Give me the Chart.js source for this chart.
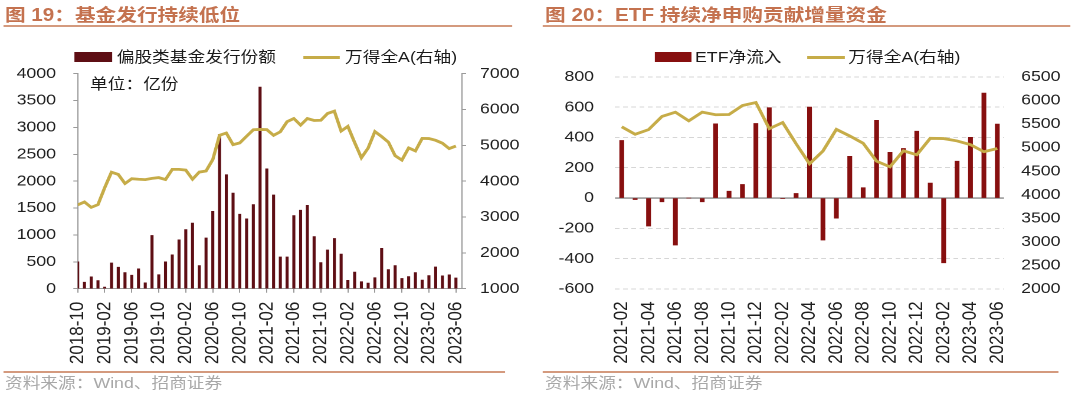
<!DOCTYPE html>
<html lang="zh-CN">
<head>
<meta charset="utf-8">
<title>基金发行与ETF净流入</title>
<script src="https://cdn.jsdelivr.net/npm/chart.js@4.4.0/dist/chart.umd.min.js"></script>
<style>
  html, body { margin: 0; padding: 0; background: #fff; }
  body { width: 1080px; height: 396px; overflow: hidden; position: relative; }
  /* the source picture is stretched sideways, so the whole page is too */
  #page { position: absolute; left: 0; top: 0; width: 915.25px; height: 396px;
          transform: scaleX(1.18); transform-origin: 0 0;
          font-family: 'Liberation Sans', 'Noto Sans CJK SC', sans-serif; }
  .title { position: absolute; top: 4px; font-size: 17.5px; font-weight: bold; color: #c4724f;
           line-height: 22px; white-space: nowrap; }
  .rule { position: absolute; height: 2px; background: #d49a7e; }
  .source { position: absolute; top: 374px; font-size: 15px; color: #a8a8a8; line-height: 18px; white-space: nowrap; }
  .legend { position: absolute; font-size: 15px; color: #1a1a1a; line-height: 18px; white-space: nowrap; }
  .box { position: absolute; }
  .chartBox { position: absolute; top: 50px; height: 320px; }
</style>
</head>
<body>
<div id="page">
  <div class="title" style="left:4.2px">图 19：基金发行持续低位</div>
  <div class="rule" style="left:3px; width:431px; top:25px"></div>
  <div class="title" style="left:461.9px">图 20：ETF 持续净申购贡献增量资金</div>
  <div class="rule" style="left:460px; width:447px; top:25px"></div>

  <div class="box" style="left:62.7px; top:52px; width:32px; height:9.5px; background:#5e0e14"></div>
  <div class="legend" style="left:98.9px; top:48px">偏股类基金发行份额</div>
  <div class="box" style="left:256.5px; top:55.5px; width:31.6px; height:3px; background:#c6ac48"></div>
  <div class="legend" style="left:292.4px; top:48px">万得全A(右轴)</div>
  <div class="legend" style="left:76.3px; top:75px">单位：亿份</div>

  <div class="box" style="left:555.1px; top:52px; width:31px; height:9.5px; background:#870f0f"></div>
  <div class="legend" style="left:589px; top:48px">ETF净流入</div>
  <div class="box" style="left:683.6px; top:55.5px; width:32.5px; height:3px; background:#c6ac48"></div>
  <div class="legend" style="left:718.9px; top:48px">万得全A(右轴)</div>

  <div class="chartBox" style="left:0; width:450px"><canvas id="fundChart"></canvas></div>
  <div class="chartBox" style="left:462px; width:453.25px"><canvas id="etfChart"></canvas></div>

  <div class="rule" style="left:3px; width:425px; top:371px"></div>
  <div class="source" style="left:4.2px">资料来源：Wind、招商证券</div>
  <div class="rule" style="left:460px; width:437px; top:371px"></div>
  <div class="source" style="left:461.9px">资料来源：Wind、招商证券</div>
</div>

<script>
// 图19: monthly, 2018-10 .. 2023-06
const fundMonths = [
    '2018-10', '2018-11', '2018-12',
    '2019-01', '2019-02', '2019-03', '2019-04', '2019-05', '2019-06',
    '2019-07', '2019-08', '2019-09', '2019-10', '2019-11', '2019-12',
    '2020-01', '2020-02', '2020-03', '2020-04', '2020-05', '2020-06',
    '2020-07', '2020-08', '2020-09', '2020-10', '2020-11', '2020-12',
    '2021-01', '2021-02', '2021-03', '2021-04', '2021-05', '2021-06',
    '2021-07', '2021-08', '2021-09', '2021-10', '2021-11', '2021-12',
    '2022-01', '2022-02', '2022-03', '2022-04', '2022-05', '2022-06',
    '2022-07', '2022-08', '2022-09', '2022-10', '2022-11', '2022-12',
    '2023-01', '2023-02', '2023-03', '2023-04', '2023-05', '2023-06'
];

// 偏股类基金发行份额 (亿份)
const fundIssue = [
    500, 120, 220,
    150, 30, 480, 400, 300, 250, 370, 110, 990, 260, 500, 630,
    910, 1100, 1220, 430, 945, 1440, 2870, 2120, 1780, 1385, 1300, 1565,
    3750, 2230, 1745, 590, 590, 1360, 1460, 1550, 970, 485, 720, 935,
    645, 155, 310, 130, 105, 205, 750, 355, 430, 190, 225, 300,
    160, 245, 405, 240, 258, 200
];

// 万得全A, month end (right axis)
const windA = [
    3340, 3420, 3270,
    3345, 3820, 4250, 4190, 3935, 4070, 4055, 4045, 4080, 4100, 4045, 4330,
    4330, 4310, 4055, 4255, 4285, 4605, 5280, 5345, 5020, 5070, 5255, 5435,
    5445, 5440, 5280, 5380, 5660, 5750, 5565, 5750, 5695, 5700, 5890, 5955,
    5400, 5530, 5080, 4655, 4925, 5385, 5245, 5090, 4710, 4590, 4930, 4845,
    5195, 5190, 5140, 5060, 4910, 4980
];

// 图20: monthly, 2021-02 .. 2023-06
const etfMonths = fundMonths.slice(28);

// ETF净流入
const etfFlow = [
    380, -10, -185, -25, -310, 0, -25, 490, 45, 90, 492,
    596, -3, 30, 600, -277, -133, 275, 68, 513, 302, 327, 441,
    99, -427, 243, 401, 693, 488
];

const etfWindA = windA.slice(28);

const fundTicks = [0, 500, 1000, 1500, 2000, 2500, 3000, 3500, 4000];
const etfTicks = [-600, -400, -200, 0, 200, 400, 600, 800];

const gold = '#c6ac48';
const axisGray = '#9a9a9a';
const tickColor = '#1f1f1f';
const yFont = { family: 'Liberation Sans', size: 15 };
const xFont = { family: 'Liberation Sans', size: 17 };
const plain = v => String(v); // no thousands separator

// solid line at zero, the other grid lines are dashed
const zeroLine = {
    id: 'zeroLine',
    beforeDatasetsDraw(chart) {
        const { ctx, chartArea } = chart;
        const y = chart.scales.y.getPixelForValue(0);
        ctx.save();
        ctx.strokeStyle = '#8a8a8a';
        ctx.lineWidth = 1.3;
        ctx.beginPath();
        ctx.moveTo(chartArea.left, y);
        ctx.lineTo(chartArea.right, y);
        ctx.stroke();
        ctx.restore();
    }
};

new Chart(document.getElementById('fundChart'), {
    type: 'bar',
    data: {
        datasets: [
            {
                type: 'line',
                label: '万得全A(右轴)',
                data: windA.map((v, i) => ({ x: i, y: v })),
                yAxisID: 'y1',
                borderColor: gold,
                borderWidth: 2.8,
                pointRadius: 0,
                tension: 0,
                order: 0
            },
            {
                label: '偏股类基金发行份额',
                data: fundIssue.map((v, i) => ({ x: i, y: v })),
                yAxisID: 'y',
                backgroundColor: '#5e0e14',
                barThickness: 1.9,
                order: 1
            }
        ]
    },
    options: {
        animation: false,
        responsive: true,
        maintainAspectRatio: false,
        devicePixelRatio: 2,
        layout: { padding: { top: 20.9, left: 0, right: 0, bottom: 0 } },
        plugins: { legend: { display: false }, tooltip: { enabled: false } },
        scales: {
            x: {
                type: 'linear',
                min: 0,
                max: 56.86,
                offset: false,
                grid: { offset: false, drawOnChartArea: false, color: axisGray, tickLength: 4 },
                border: { color: axisGray },
                ticks: {
                    stepSize: 4,
                    includeBounds: false,
                    autoSkip: false,
                    minRotation: 90,
                    maxRotation: 90,
                    padding: 9,
                    font: xFont,
                    color: tickColor,
                    callback: v => fundMonths[v] ?? ''
                },
                afterFit: s => { s.height = 81.3; }
            },
            y: {
                position: 'left',
                min: 0,
                max: 4000,
                afterBuildTicks: s => { s.ticks = fundTicks.map(v => ({ value: v })); },
                grid: { drawOnChartArea: false, color: axisGray, tickLength: 3.7 },
                border: { color: axisGray },
                ticks: { padding: 14.7, font: yFont, color: tickColor, callback: plain },
                afterFit: s => { s.width = 65.85; }
            },
            y1: {
                position: 'right',
                min: 1000,
                max: 7000,
                grid: { drawOnChartArea: false, color: axisGray, tickLength: 3.7 },
                border: { color: axisGray },
                ticks: { stepSize: 1000, padding: 11.8, font: yFont, color: tickColor, callback: plain },
                afterFit: s => { s.width = 58.7; }
            }
        }
    }
});

new Chart(document.getElementById('etfChart'), {
    type: 'bar',
    data: {
        labels: etfMonths,
        datasets: [
            {
                type: 'line',
                label: '万得全A(右轴)',
                data: etfWindA,
                yAxisID: 'y1',
                borderColor: gold,
                borderWidth: 2.8,
                pointRadius: 0,
                tension: 0,
                order: 0
            },
            {
                label: 'ETF净流入',
                data: etfFlow,
                yAxisID: 'y',
                backgroundColor: '#870f0f',
                barThickness: 3.4,
                order: 1
            }
        ]
    },
    options: {
        animation: false,
        responsive: true,
        maintainAspectRatio: false,
        devicePixelRatio: 2,
        layout: { padding: { top: 18.5, left: 0, right: 0, bottom: 0 } },
        plugins: { legend: { display: false }, tooltip: { enabled: false } },
        scales: {
            x: {
                grid: { display: false, drawTicks: false },
                border: { display: false },
                ticks: {
                    autoSkip: false,
                    minRotation: 90,
                    maxRotation: 90,
                    padding: 12.4,
                    font: xFont,
                    color: tickColor,
                    callback: (v, i) => (i % 2 === 0 ? etfMonths[i] : '')
                },
                afterFit: s => { s.height = 81; }
            },
            y: {
                position: 'left',
                min: -600,
                max: 800,
                afterBuildTicks: s => { s.ticks = etfTicks.map(v => ({ value: v })); },
                grid: { color: '#d6d6d6', drawTicks: false },
                border: { display: false, dash: [4, 3] },
                ticks: { padding: 17.8, font: yFont, color: tickColor, callback: plain },
                afterFit: s => { s.width = 59.2; }
            },
            y1: {
                position: 'right',
                min: 2000,
                max: 6500,
                grid: { drawOnChartArea: false, drawTicks: false },
                border: { display: false },
                ticks: { stepSize: 500, padding: 14.5, font: yFont, color: tickColor, callback: plain },
                afterFit: s => { s.width = 64.45; }
            }
        }
    },
    plugins: [zeroLine]
});
</script>
</body>
</html>
